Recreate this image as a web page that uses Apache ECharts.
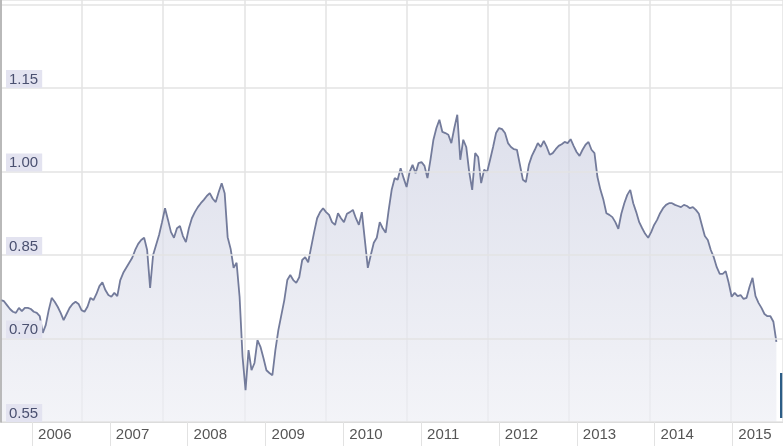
<!DOCTYPE html>
<html>
<head>
<meta charset="utf-8">
<script src="https://cdn.jsdelivr.net/npm/echarts@6/dist/echarts.min.js"></script>
<style>
html,body{margin:0;padding:0;background:#fff;}
#chart{width:783px;height:446px;}
</style>
</head>
<body>
<div id="chart"></div>
<script>
// Series: rate sampled every 14 days starting 2005-08-08
const startDate = '2005-08-08';
const stepDays = 14;
const rates = [
  0.769,0.767,0.760,0.753,0.748,0.746,0.755,0.749,0.755,0.755,
  0.753,0.748,0.746,0.740,0.710,0.724,0.751,0.773,0.766,0.757,
  0.746,0.733,0.744,0.755,0.762,0.766,0.762,0.751,0.748,0.757,
  0.773,0.769,0.780,0.794,0.801,0.787,0.778,0.775,0.782,0.776,
  0.805,0.818,0.827,0.836,0.845,0.859,0.870,0.877,0.881,0.859,
  0.791,0.850,0.868,0.886,0.909,0.934,0.913,0.891,0.881,0.898,
  0.902,0.884,0.873,0.898,0.916,0.927,0.936,0.943,0.949,0.956,
  0.961,0.951,0.945,0.963,0.979,0.961,0.882,0.861,0.827,0.836,
  0.775,0.667,0.607,0.679,0.643,0.656,0.697,0.685,0.665,0.643,
  0.638,0.634,0.679,0.715,0.742,0.769,0.805,0.814,0.805,0.800,
  0.810,0.841,0.846,0.837,0.864,0.891,0.916,0.927,0.934,0.927,
  0.922,0.909,0.904,0.925,0.916,0.909,0.924,0.927,0.931,0.916,
  0.904,0.927,0.877,0.827,0.850,0.872,0.881,0.909,0.898,0.890,
  0.931,0.967,0.988,0.985,1.006,0.988,0.972,0.999,1.012,0.997,
  1.015,1.017,1.010,0.988,1.021,1.057,1.078,1.093,1.071,1.069,
  1.066,1.051,1.078,1.102,1.021,1.057,1.044,0.999,0.967,1.033,
  1.026,0.979,1.003,0.999,1.021,1.044,1.069,1.078,1.076,1.069,
  1.051,1.044,1.040,1.039,1.012,0.985,0.981,1.012,1.028,1.039,
  1.051,1.044,1.055,1.044,1.030,1.033,1.040,1.046,1.049,1.053,
  1.051,1.058,1.046,1.035,1.028,1.039,1.048,1.053,1.039,1.033,
  0.990,0.967,0.949,0.925,0.922,0.918,0.909,0.897,0.924,0.943,
  0.958,0.967,0.943,0.927,0.909,0.898,0.888,0.881,0.891,0.904,
  0.913,0.925,0.934,0.940,0.943,0.943,0.940,0.938,0.936,0.940,
  0.938,0.934,0.936,0.931,0.924,0.904,0.884,0.877,0.859,0.846,
  0.828,0.816,0.816,0.821,0.800,0.775,0.782,0.776,0.778,0.771,
  0.773,0.793,0.809,0.776,0.764,0.755,0.744,0.740,0.740,0.730,
  0.694
];
const yTicks = [0.55, 0.70, 0.85, 1.00, 1.15, 1.30];
const yLabeled = ['0.55', '0.70', '0.85', '1.00', '1.15'];
const xRange = ['2005-08-08', '2015-08-27'];

const DAY = 86400000;
const t0 = new Date(startDate + 'T00:00:00').getTime();
const seriesData = rates.map((v, i) => [t0 + i * stepDays * DAY, v]);

const chart = echarts.init(document.getElementById('chart'), null, {renderer: 'canvas'});
const gridColor = '#e3e3e3';
chart.setOption({
  animation: false,
  backgroundColor: '#ffffff',
  grid: {left: 1, right: 0, top: 0, bottom: 24, containLabel: false},
  xAxis: [{
    type: 'time',
    min: new Date(xRange[0] + 'T00:00:00').getTime(),
    max: new Date(xRange[1] + 'T00:00:00').getTime(),
    minInterval: 365 * DAY,
    maxInterval: 366 * DAY,
    axisLine: {show: true, lineStyle: {color: '#c8c8c8', width: 1}},
    axisTick: {show: true, length: 24, lineStyle: {color: '#e2e2e2'}},
    axisLabel: {
      align: 'left', padding: [0, 0, 0, 6], margin: 5,
      fontFamily: 'Liberation Sans, Arial, sans-serif', fontSize: 15, color: '#555',
      formatter: (val) => String(new Date(val).getFullYear()),
      hideOverlap: false
    },
    splitLine: {show: false}
  }, {
    type: 'value',
    min: 0, max: 9.643, interval: 1,
    position: 'top',
    axisLine: {show: false}, axisTick: {show: false}, axisLabel: {show: false},
    splitLine: {show: true, lineStyle: {color: gridColor, width: 1.5}}
  }],
  yAxis: {
    type: 'value',
    z: 10,
    min: yTicks[0], max: 1.308, interval: 0.15,
    axisLine: {show: true, lineStyle: {color: '#a8a8a8', width: 1.5}},
    axisTick: {show: false},
    splitLine: {show: true, lineStyle: {color: gridColor, width: 1.5}},
    axisLabel: {
      inside: true, margin: 5, verticalAlign: 'bottom',
      formatter: (v) => {
        const s = v.toFixed(2);
        return yLabeled.includes(s) ? '{b|' + s + '}' : '';
      },
      rich: {
        b: {
          fontFamily: 'Liberation Sans, Arial, sans-serif', fontSize: 15,
          color: '#4a5070', backgroundColor: '#e3e3f0',
          padding: [2, 4, 1, 3]
        }
      }
    }
  },
  series: [{
    type: 'line',
    xAxisIndex: 0,
    data: seriesData,
    showSymbol: false,
    symbol: 'none',
    lineStyle: {color: '#737b9b', width: 1.8},
    areaStyle: {
      origin: 'start',
      color: new echarts.graphic.LinearGradient(0, 0, 0, 1, [
        {offset: 0, color: '#cfd2e3'},
        {offset: 1, color: '#eeeff5'}
      ])
    },
    z: 3
  }],
  graphic: [{
    type: 'rect', right: 0, top: 373,
    shape: {width: 3, height: 45},
    style: {fill: '#2c5d86'}
  }]
});
</script>
</body>
</html>
